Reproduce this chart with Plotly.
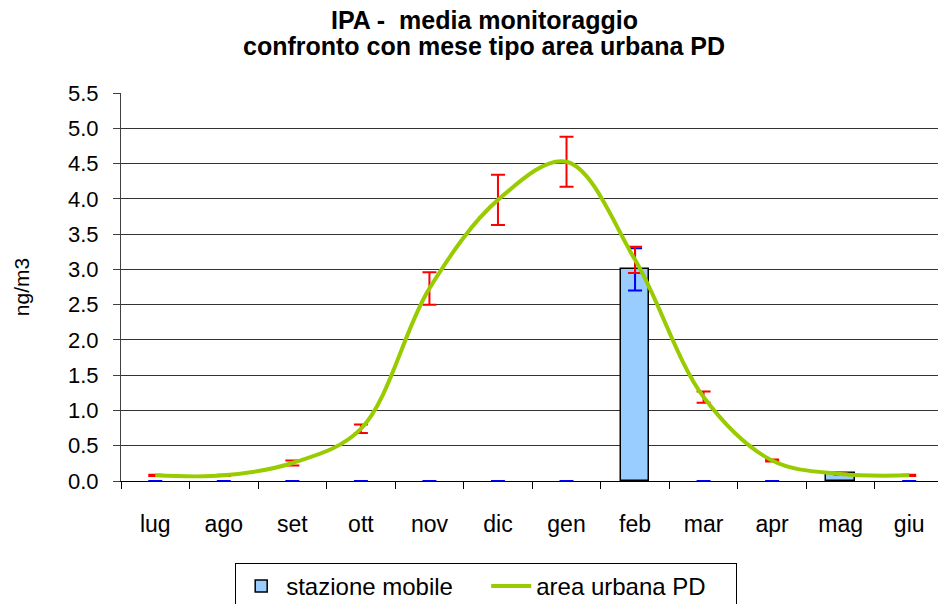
import plotly.graph_objects as go

months = ["lug", "ago", "set", "ott", "nov", "dic", "gen", "feb", "mar", "apr", "mag", "giu"]

# stazione mobile (bars) and its error
mobile_vals = [0, 0, 0, 0, 0, 0, 0, 3.0, 0, 0, 0.11, 0]
mobile_err = [0, 0, 0, 0, 0, 0, 0, 0.30, 0, 0, 0, 0]

# area urbana PD (monthly typical values) and error
urban_vals = [0.08, 0.08, 0.255, 0.74, 2.73, 3.985, 4.525, 3.135, 1.19, 0.29, 0.10, 0.08]
urban_err = [0.01, 0.01, 0.037, 0.06, 0.23, 0.355, 0.355, 0.185, 0.08, 0.015, 0.01, 0.01]

y_ticks = [0.0, 0.5, 1.0, 1.5, 2.0, 2.5, 3.0, 3.5, 4.0, 4.5, 5.0, 5.5]

title_lines = ["IPA -  media monitoraggio", "confronto con mese tipo area urbana PD"]

FONT = "Liberation Sans, Arial, sans-serif"

fig = go.Figure()
fig.add_trace(go.Bar(
    x=months, y=mobile_vals, name="stazione mobile", showlegend=False,
    width=0.42,
    marker=dict(color="#99CCFF",
                line=dict(color="#000000",
                          width=[1.5 if v > 0 else 0 for v in mobile_vals])),
    error_y=dict(type="data", array=mobile_err, visible=True,
                 color="#0000FF", thickness=2, width=7),
))
# legend entry for the bars (outlined swatch, draws nothing on the plot)
fig.add_trace(go.Bar(
    x=[months[0]], y=[None], name="stazione mobile", showlegend=True,
    marker=dict(color="#99CCFF", line=dict(color="#000000", width=1.5)),
    hoverinfo="skip",
))
fig.add_trace(go.Scatter(
    x=months, y=urban_vals, name="area urbana PD",
    mode="lines",
    line=dict(color="#99CC00", width=4, shape="spline", smoothing=1.0),
    error_y=dict(type="data", array=urban_err, visible=True,
                 color="#FF0000", thickness=2, width=7),
))

# two-line bold title
for i, (txt, ypx) in enumerate(zip(title_lines, [20, 46])):
    fig.add_annotation(
        text=f"<b>{txt}</b>", xref="paper", yref="paper",
        x=(484 - 121) / (938 - 121), xanchor="center",
        y=1 + (93 - ypx) / 388, yanchor="middle",
        showarrow=False, font=dict(family=FONT, size=25, color="#000000"),
    )

fig.update_layout(
    width=938, height=604,
    margin=dict(l=121, r=0, t=93, b=123),
    paper_bgcolor="white", plot_bgcolor="white",
    font=dict(family=FONT, color="#000000", size=22),
    showlegend=True,
    legend=dict(
        orientation="h", x=0.447, xanchor="center",
        yref="container", y=(604 - 563) / 604, yanchor="top",
        bordercolor="#000000", borderwidth=1, bgcolor="white",
        font=dict(family=FONT, size=24),
        itemwidth=40, entrywidth=195, entrywidthmode="pixels",
    ),
    barmode="overlay",
    bargap=0,
)
fig.update_xaxes(
    type="category", range=[-0.5, 11.42], automargin=False,
    showline=True, linecolor="#000000", linewidth=1,
    ticks="outside", ticklen=7, tickcolor="#000000", tickson="boundaries",
    showgrid=False, tickfont=dict(size=23), ticklabelstandoff=22,
)
fig.update_yaxes(
    range=[0, 5.5], tickvals=y_ticks, ticktext=[f"{v:.1f}" for v in y_ticks],
    automargin=False,
    showline=True, linecolor="#404040", linewidth=1,
    ticks="outside", ticklen=7, tickcolor="#404040",
    showgrid=True, gridcolor="#333333", gridwidth=1,
    tickfont=dict(size=22), zeroline=False, ticklabelstandoff=10,
    title=dict(text="ng/m3", font=dict(size=21), standoff=32),
)

fig.write_html("out.html", config={"displayModeBar": False},
               post_script="document.body.style.margin='0';")
